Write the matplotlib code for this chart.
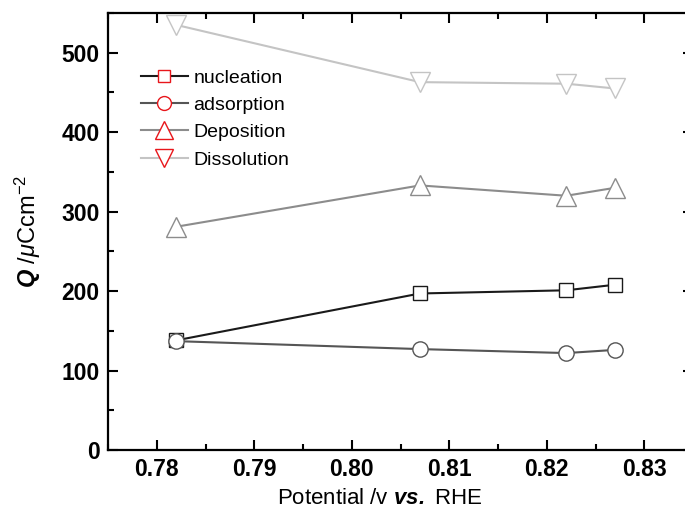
import matplotlib
matplotlib.use('Agg')
import matplotlib.pyplot as plt
from matplotlib.lines import Line2D
from matplotlib.ticker import MultipleLocator

plt.rcParams['font.family'] = ['Liberation Sans', 'DejaVu Sans']
plt.rcParams['mathtext.fontset'] = 'custom'
plt.rcParams['mathtext.rm'] = 'Liberation Sans'
plt.rcParams['mathtext.it'] = 'Liberation Sans:italic'
plt.rcParams['mathtext.bf'] = 'Liberation Sans:bold'
plt.rcParams['mathtext.bfit'] = 'Liberation Sans:bold:italic'

# potential (V vs. RHE)
potential = [0.782, 0.807, 0.822, 0.827]
# charge densities (uC cm^-2)
nucleation = [138, 197, 201, 208]
adsorption = [137, 127, 122, 126]
deposition = [281, 333, 320, 330]
dissolution = [535, 463, 461, 455]

series = [
    ('nucleation', nucleation, 's', '#1a1a1a', 10),
    ('adsorption', adsorption, 'o', '#555555', 11),
    ('Deposition', deposition, '^', '#8c8c8c', 14),
    ('Dissolution', dissolution, 'v', '#c4c4c4', 14),
]

fig = plt.figure(figsize=(6.85, 5.17), dpi=100)
W, H = 685, 517
ax = fig.add_axes([108 / W, (H - 450) / H, 585 / W, 437 / H])

handles = []
for name, vals, mk, col, ms in series:
    ax.plot(potential, vals, color=col, lw=1.5, marker=mk, ms=ms,
            mfc='white', mec=col, mew=1.0, zorder=3)
    handles.append(Line2D([], [], color=col, lw=1.5, marker=mk, ms=ms - 1,
                          mfc='white', mec='#e8161b', mew=1.0))

ax.set_xlim(0.775, 0.835)
ax.set_ylim(0, 550)
ax.xaxis.set_major_locator(MultipleLocator(0.01))
ax.xaxis.set_minor_locator(MultipleLocator(0.005))
ax.yaxis.set_major_locator(MultipleLocator(100))
ax.yaxis.set_minor_locator(MultipleLocator(50))
ax.tick_params(which='both', direction='in', top=True, right=True, width=1.5)
ax.tick_params(which='major', length=7, labelsize=16.5, pad=6)
ax.tick_params(which='minor', length=4)
for lab in ax.get_xticklabels() + ax.get_yticklabels():
    lab.set_fontweight('bold')
for sp in ax.spines.values():
    sp.set_linewidth(1.6)

ax.set_xlabel(r'Potential /v $\mathbfit{vs.}$ RHE', fontsize=16)
ax.xaxis.set_label_coords((380 - 108) / 585, -0.086)
ax.set_ylabel(r'$\mathbfit{Q}$ $\mathit{/\mu}$Ccm$^{-2}$', fontsize=17, labelpad=13)

ax.legend(handles, [s[0] for s in series], loc='upper left', frameon=False,
          bbox_to_anchor=((141 - 108) / 585, (450 - 69) / 437),
          borderpad=0, borderaxespad=0, fontsize=14,
          handlelength=2.4, handletextpad=0.3, labelspacing=0.5)

fig.savefig('out.png', dpi=100)
